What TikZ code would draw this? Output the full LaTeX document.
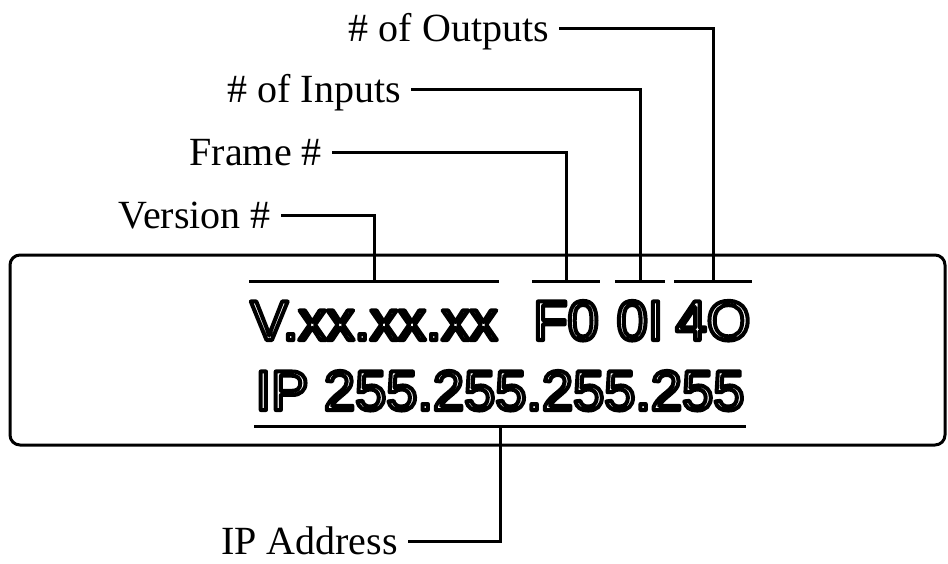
\documentclass[tikz,border=0pt]{standalone}
\usepackage{fontspec}
\setmainfont{Liberation Serif}
\newfontfamily\lcdfont{Liberation Sans}
\usetikzlibrary{positioning}

% outlined display glyphs: white fill, black stroke
\newcommand{\lcdtext}[1]{\color{white}\special{pdf:literal direct 0 G 4 w 1 j 2 Tr}#1\special{pdf:literal direct 0 Tr}}

\begin{document}
\begin{tikzpicture}[
  x=1pt, y=-1pt,
  line join=miter,
  lead/.style={draw=black,line width=3pt},
  lab/.style={font=\fontsize{40}{44}\selectfont, text height=26pt, text depth=0pt, inner xsep=10pt, anchor=east},
  lcd/.style={font=\lcdfont\fontsize{56}{60}\selectfont, text height=42pt, text depth=0pt, inner xsep=1pt, inner ysep=16pt, anchor=base}
]
\useasboundingbox (0,0) rectangle (948,563);

% display window
\draw[lead, rounded corners=10pt] (10,255) rectangle (945,445);

% display text
\node[lcd] (ver) at (374,340) {\lcdtext{V.xx.xx.xx}};
\node[lcd] (frm) at (566,340) {\lcdtext{F0}};
\node[lcd] (inp) at (640,340) {\lcdtext{0I}};
\node[lcd] (outp) at (713,340) {\lcdtext{4O}};
\node[lcd] (ip) at (500,410) {\lcdtext{IP 255.255.255.255}};

% bars over and under the fields
\foreach \n in {ver,frm,inp,outp}
  \draw[lead] (\n.north west) -- (\n.north east);
\draw[lead] (ip.south west) -- (ip.south east);

% labels
\node[lab] (vlab) at (281,215) {Version \#};
\node[lab] (flab) at (332,152) {Frame \#};
\node[lab] (ilab) at (411,89) {\# of Inputs};
\node[lab] (olab) at (559,28) {\# of Outputs};
\node[lab] (iplab) at (408,541) {IP Address};

% leaders
\draw[lead] (vlab.east) -| (ver.north);
\draw[lead] (flab.east) -| (frm.north);
\draw[lead] (ilab.east) -| (inp.north);
\draw[lead] (olab.east) -| (outp.north);
\draw[lead] (iplab.east) -| (ip.south);

\end{tikzpicture}
\end{document}
